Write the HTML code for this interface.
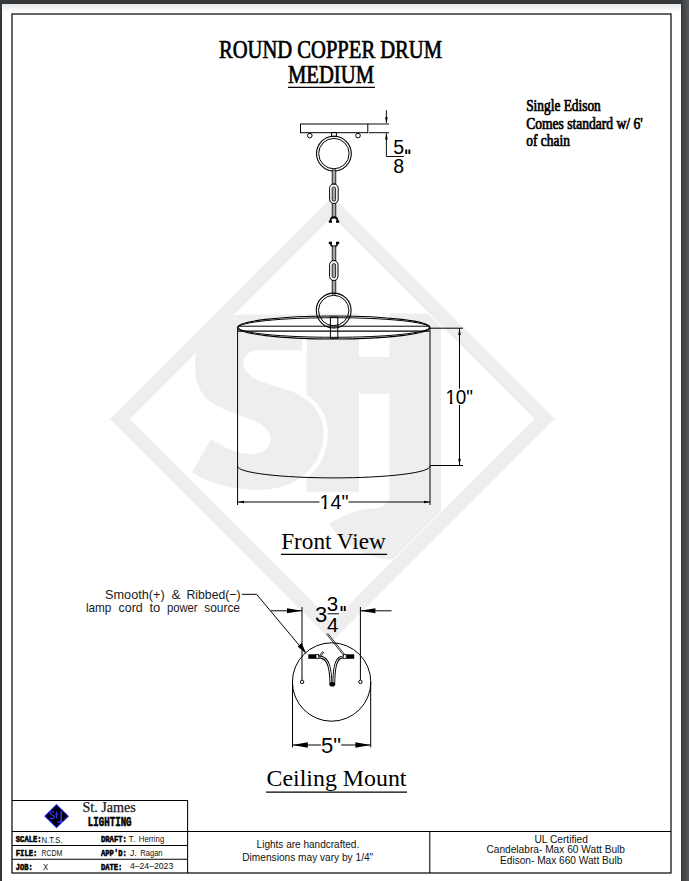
<!DOCTYPE html>
<html><head><meta charset="utf-8">
<style>
html,body{margin:0;padding:0;width:689px;height:881px;overflow:hidden;background:#35383b;}
svg{position:absolute;left:0;top:0;display:block;}
.sans{font-family:"Liberation Sans",sans-serif;}
.serif{font-family:"Liberation Serif",serif;}
.mono{font-family:"Liberation Mono",monospace;}
</style></head>
<body>
<svg width="689" height="881" viewBox="0 0 689 881">
<defs>
<linearGradient id="topsh" x1="0" y1="0" x2="0" y2="1">
<stop offset="0" stop-color="#e6e6e6"/><stop offset="1" stop-color="#ffffff"/>
</linearGradient>
<linearGradient id="rstrip" x1="0" y1="0" x2="1" y2="0">
<stop offset="0" stop-color="#2e3134"/><stop offset="0.2" stop-color="#404346"/><stop offset="1" stop-color="#56595c"/>
</linearGradient>
</defs>
<!-- page -->
<rect x="0" y="0" width="689" height="881" fill="#35383b"/>
<rect x="681" y="0" width="8" height="881" fill="url(#rstrip)"/>
<rect x="2" y="4" width="679" height="877" fill="#ffffff"/>
<rect x="2" y="4" width="679" height="8" fill="url(#topsh)"/>

<!-- watermark -->
<clipPath id="dclip"><path d="M332.3 218 L533.3 419 L332.3 620 L131.3 419 Z"/></clipPath>
<g id="wm" fill="#eeeeee">
<path fill-rule="evenodd" d="M332.3 196.5 L554.8 419 L332.3 641.5 L109.8 419 Z M332.3 216.5 L534.8 419 L332.3 621.5 L129.8 419 Z"/>
<g clip-path="url(#dclip)">
<rect x="306.6" y="313.4" width="52.4" height="178.4"/>
<rect x="358" y="357" width="32" height="36.6"/>
<path d="M389.5 313.4 H441 V512 L398 560 C378 560 348 552 329 524 C345 514 360 508.5 374 508.5 C383 508.5 389.5 503 389.5 495.5 Z"/>

</g>
<clipPath id="sepclip"><rect x="288" y="300" width="60" height="200"/></clipPath>
<path clip-path="url(#sepclip)" fill="#fff" stroke="#fff" stroke-width="8.8" d="M302.2 314.5 V350.5 H257 C249 350.5 243.5 356.5 243.5 363.5 C243.5 372 252 379 268 384 C285 389 296 392 302.2 397 C316 405 323.5 418 323.5 433 C323.5 465 298 489.7 260 489.7 C230 489.7 205 482 192 472 L211 439.5 C225 448 238 454 252 454 C263 454 270.4 448 270.4 439 C270.4 430 263 424 250 419 C232 413 214 406 207 399 C199 391 195 380 195 366 C195 336 214 314.5 244 314.5 Z"/>
<path d="M302.2 314.5 V350.5 H257 C249 350.5 243.5 356.5 243.5 363.5 C243.5 372 252 379 268 384 C285 389 296 392 302.2 397 C316 405 323.5 418 323.5 433 C323.5 465 298 489.7 260 489.7 C230 489.7 205 482 192 472 L211 439.5 C225 448 238 454 252 454 C263 454 270.4 448 270.4 439 C270.4 430 263 424 250 419 C232 413 214 406 207 399 C199 391 195 380 195 366 C195 336 214 314.5 244 314.5 Z"/>
</g>

<!-- border -->
<rect x="12" y="14" width="659" height="859" fill="none" stroke="#000" stroke-width="1.2"/>

<!-- title -->
<g class="serif" fill="#000" stroke="#000" stroke-width="0.7">
<text x="219" y="58.3" font-size="24.6" textLength="223" lengthAdjust="spacingAndGlyphs">ROUND COPPER DRUM</text>
<text x="288" y="82.6" font-size="24.6" textLength="86" lengthAdjust="spacingAndGlyphs">MEDIUM</text>
<text x="526.2" y="110.9" font-size="16" textLength="74.6" lengthAdjust="spacingAndGlyphs">Single Edison</text>
<text x="526.2" y="128.6" font-size="16" textLength="116.4" lengthAdjust="spacingAndGlyphs">Comes standard w/ 6'</text>
<text x="526.2" y="145.6" font-size="16" textLength="43.7" lengthAdjust="spacingAndGlyphs">of chain</text>
</g>
<line x1="288" y1="87.3" x2="375" y2="87.3" stroke="#000" stroke-width="1.3"/>

<!-- drawing -->
<g id="draw" fill="none" stroke="#000" stroke-width="1">
<ellipse cx="333.75" cy="327.5" rx="96.2" ry="11.5" fill="#fff" stroke="none"/>
<!-- canopy -->
<rect x="300.5" y="124" width="67.3" height="8.7"/>
<circle cx="309.8" cy="135.6" r="2.3"/>
<circle cx="358" cy="135.6" r="2.3"/>
<rect x="331.6" y="132.5" width="4.8" height="3.8"/>
<circle cx="333.9" cy="153.6" r="17.4" stroke-width="1.1"/>
<circle cx="333.9" cy="153.6" r="15.2" stroke-width="1"/>
<!-- upper chain -->
<rect x="332.2" y="170" width="3.6" height="14" fill="#a8a8a8" stroke-width="0.8"/>
<rect x="329.6" y="184" width="8.6" height="19.6" rx="4.3" stroke-width="1"/>
<rect x="332.2" y="187" width="3.4" height="14" rx="1.5" fill="#a8a8a8" stroke-width="0.8"/>
<rect x="332.2" y="203.6" width="3.6" height="14.5" fill="#a8a8a8" stroke-width="0.8"/>
<path d="M330.4 221.5 C330.4 218.5 332 217.2 334 217.2 C336 217.2 337.6 218.5 337.6 221.5" stroke-width="1.7"/><path d="M328.8 220.6 h3.2 v2.2 h-3.2 Z M336 220.6 h3.2 v2.2 h-3.2 Z" fill="#000" stroke="none"/>
<!-- lower chain -->
<path d="M330.4 242.5 C330.6 245 332 246.6 334 246.8 C336 246.6 337.4 245 337.6 242.5" stroke-width="1.7"/><path d="M328.8 241.8 h3.2 v2.2 h-3.2 Z M336 241.8 h3.2 v2.2 h-3.2 Z" fill="#000" stroke="none"/>
<rect x="332.2" y="246" width="3.6" height="14.6" fill="#a8a8a8" stroke-width="0.8"/>
<rect x="329.6" y="260.6" width="8.4" height="19.9" rx="4.2" stroke-width="1"/>
<rect x="332.2" y="263.6" width="3.4" height="14" rx="1.5" fill="#a8a8a8" stroke-width="0.8"/>
<rect x="332.2" y="280.5" width="3.6" height="13.5" fill="#a8a8a8" stroke-width="0.8"/>
<circle cx="333.7" cy="310.5" r="17.4" stroke-width="1.1"/>
<circle cx="333.7" cy="310.5" r="15.2" stroke-width="1"/>
<!-- drum -->
<rect x="330.4" y="317" width="7.4" height="21.3" fill="none" stroke-width="1"/>
<ellipse cx="333.75" cy="327.5" rx="96.2" ry="11.5" stroke-width="1.1"/>
<ellipse cx="333.75" cy="327.5" rx="95.4" ry="9.8" stroke-width="1"/>
<line x1="238" y1="326.2" x2="429.5" y2="326.2"/>
<line x1="238" y1="331.2" x2="429.5" y2="331.2" stroke-width="1.2"/>
<line x1="237.6" y1="327.5" x2="237.6" y2="505"/>
<line x1="430" y1="327.5" x2="430" y2="505"/>
<path d="M237.6 466.3 A96.2 11.6 0 0 0 430 466.3"/>
<!-- dims front -->
<path d="M430 328.2 H463 M430 465.5 H463 M459.5 328.2 V388.7 M459.5 405 V465.5"/>
<path d="M459.5 328.5 L458.2 335 L460.8 335 Z M459.5 465.2 L458.2 458.7 L460.8 458.7 Z" fill="#000" stroke="none"/>
<path d="M238 502 H319.5 M348.5 502 H430"/>
<path d="M238 502 L244 500.7 L244 503.3 Z M430 502 L424 500.7 L424 503.3 Z" fill="#000" stroke="none"/>
<line x1="281" y1="554.3" x2="387" y2="554.3" stroke-width="1.3"/>
<!-- ceiling mount -->
<path d="M241.8 594.3 H256.6 L304 651"/>
<path d="M306.5 654 L297.6 646.4 L301.6 643 Z" fill="#000" stroke="none"/>
<path d="M302 607 V680 M360.4 607 V680"/>
<path d="M270.7 610.8 H302 M360.4 610.8 H391.6"/>
<path d="M302 610.8 L287 608.3 L287 613.3 Z M360.4 610.8 L375.4 608.3 L375.4 613.3 Z" fill="#000" stroke="none"/>
<line x1="327.5" y1="613.8" x2="339" y2="613.8" stroke-width="1"/>
<circle cx="331.6" cy="682" r="39.2"/>
<circle cx="302.1" cy="681.9" r="1.7"/>
<circle cx="360.4" cy="681.9" r="1.7"/>
<path d="M292.5 682 V747.3 M370.7 682 V747.3"/>
<path d="M292.5 745 H321 M341.2 745 H370.7"/>
<path d="M292.5 745 L307.8 742.2 L307.8 747.8 Z M370.7 745 L355.4 742.2 L355.4 747.8 Z" fill="#000" stroke="none"/>
<!-- wires -->
<rect x="308.3" y="654.3" width="7.7" height="4.5" fill="#000" stroke="none"/>
<rect x="316" y="654.6" width="2.6" height="4" fill="#fff" stroke-width="0.8"/>
<rect x="346.2" y="654.3" width="8" height="4.5" fill="#000" stroke="none"/>
<rect x="343.5" y="654.6" width="2.7" height="4" fill="#fff" stroke-width="0.8"/>
<path d="M318.4 657 C326 657 330.6 662 330.9 684" stroke-width="2.8"/>
<path d="M318.4 657 C326 657 330.6 662 330.9 684" stroke="#fff" stroke-width="1"/>
<path d="M343.6 657 C337.5 657 334 662 333.8 684" stroke-width="2.8"/>
<path d="M343.6 657 C337.5 657 334 662 333.8 684" stroke="#fff" stroke-width="1"/>
<ellipse cx="332.3" cy="684.3" rx="2.9" ry="2.3" fill="#000" stroke="none"/>
<path d="M319 656.5 L322.8 651.2 M320.2 657.3 L323.8 652" stroke-width="0.8"/>
<path d="M326.4 633.8 L343 654.6 M327.8 633.4 L344.4 654.2" stroke-width="0.8"/>
<line x1="266" y1="792.1" x2="407" y2="792.1" stroke-width="1.3"/>
</g>
<g class="sans" fill="#000">
<text x="393.3" y="154" font-size="19.5">5</text>

<text x="393.3" y="172.8" font-size="19.5">8</text>
<text x="445.4" y="404.3" font-size="20" textLength="27.6" lengthAdjust="spacingAndGlyphs">10"</text>
<text x="319.6" y="508.7" font-size="19.8">14"</text>
<text x="314.9" y="622.3" font-size="22">3</text>
<text x="326.8" y="610.7" font-size="20.5">3</text>
<text x="327" y="631.7" font-size="20.5">4</text>

<text x="321" y="752.9" font-size="22">5"</text>
</g>
<path d="M319.5 506.5 H324 V509 H319.5 Z M326.4 506.5 H330 V509 H326.4 Z M445.5 401.5 H450 V404 H445.5 Z M452.4 401.5 H455.9 V404 H452.4 Z" fill="#fff"/>
<path d="M405.3 149.4 h1.9 v4.5 h-1.9 Z M408.4 149.4 h1.9 v4.5 h-1.9 Z M340.6 606 h1.9 v5 h-1.9 Z M343.8 606 h1.9 v5 h-1.9 Z" fill="#000"/>
<path d="M386.4 110.2 V123 M367.8 124 H389 M369 132.7 H389 M386.4 133.3 V156.5 H403.8" fill="none" stroke="#000" stroke-width="0.95"/>
<path d="M386.4 123.6 L385.1 117.2 L387.7 117.2 Z M386.4 133.1 L385.1 139.5 L387.7 139.5 Z" fill="#000"/>
<g class="serif" fill="#000">
<text x="281.2" y="548.7" font-size="23" textLength="104.5" lengthAdjust="spacingAndGlyphs">Front View</text>
<text x="266.5" y="785.7" font-size="23.8" textLength="140" lengthAdjust="spacingAndGlyphs">Ceiling Mount</text>
</g>
<g class="sans" fill="#1a1a1a" font-size="12.9" lengthAdjust="spacingAndGlyphs">
<text x="105.0" y="599.4" textLength="59.7" lengthAdjust="spacingAndGlyphs">Smooth(+)</text>
<text x="171.4" y="599.4" textLength="9.0" lengthAdjust="spacingAndGlyphs">&amp;</text>
<text x="186.5" y="599.4" textLength="54.0" lengthAdjust="spacingAndGlyphs">Ribbed(−)</text>
<text x="85.9" y="612.4" textLength="25.5" lengthAdjust="spacingAndGlyphs">lamp</text>
<text x="118.6" y="612.4" textLength="24.2" lengthAdjust="spacingAndGlyphs">cord</text>
<text x="149.4" y="612.4" textLength="10.9" lengthAdjust="spacingAndGlyphs">to</text>
<text x="166.9" y="612.4" textLength="30.7" lengthAdjust="spacingAndGlyphs">power</text>
<text x="204.3" y="612.4" textLength="35.7" lengthAdjust="spacingAndGlyphs">source</text>
</g>

<!-- title block -->
<path d="M45 816.2 L56.5 804.7 L68.2 816.2 L56.5 827.6 Z" fill="#000" stroke="#1a1aff" stroke-width="1.1"/>
<g fill="#3535ff" stroke="none">
<path d="M54.3 812.4 C53.6 811.5 50.6 811.3 50.4 813.3 C50.2 815.2 54.3 814.8 54.3 817 C54.3 819 51 819 50 818" fill="none" stroke="#3a3aff" stroke-width="1.1"/>
<path d="M56.6 811.5 V818.5 M55.3 814.2 H58.2" fill="none" stroke="#3a3aff" stroke-width="1"/>
<rect x="60.5" y="811" width="1.5" height="11.5"/>
<rect x="57.3" y="821.4" width="4.7" height="1.5"/>
</g>
<g class="serif"><text x="82.4" y="812" font-size="13.8" fill="#1a1a1a" stroke="#1a1a1a" stroke-width="0.25" textLength="53.4" lengthAdjust="spacingAndGlyphs">St. James</text></g>
<g class="mono" font-weight="bold" fill="#000" stroke="#000" stroke-width="0.6">
<text x="87.8" y="826.3" font-size="13.2" textLength="43.8" lengthAdjust="spacingAndGlyphs">LIGHTING</text>
<text x="15.8" y="842.3" font-size="9.4" textLength="25.8" lengthAdjust="spacingAndGlyphs">SCALE:</text>
<text x="15.8" y="855.9" font-size="9.4" textLength="21.5" lengthAdjust="spacingAndGlyphs">FILE:</text>
<text x="15.8" y="869.7" font-size="9.4" textLength="16.8" lengthAdjust="spacingAndGlyphs">JOB:</text>
<text x="101" y="842.3" font-size="9.4" textLength="25.8" lengthAdjust="spacingAndGlyphs">DRAFT:</text>
<text x="101" y="855.8" font-size="9.4" textLength="25.8" lengthAdjust="spacingAndGlyphs">APP'D:</text>
<text x="101" y="869.6" font-size="9.4" textLength="21.3" lengthAdjust="spacingAndGlyphs">DATE:</text>
</g>
<g class="sans" fill="#111" font-size="8.5">
<text x="41.6" y="842.5" textLength="20.8" lengthAdjust="spacingAndGlyphs">N.T.S.</text>
<text x="41.6" y="855.8" textLength="20.8" lengthAdjust="spacingAndGlyphs">RCDM</text>
<text x="43" y="869.5" textLength="5.2" lengthAdjust="spacingAndGlyphs">X</text>
<text x="128.5" y="842.2" textLength="6.6" lengthAdjust="spacingAndGlyphs">T.</text>
<text x="138.8" y="842.2" textLength="25.4" lengthAdjust="spacingAndGlyphs">Herring</text>
<text x="129.9" y="855.7" textLength="6.8" lengthAdjust="spacingAndGlyphs">J.</text>
<text x="140.2" y="855.7" textLength="22.4" lengthAdjust="spacingAndGlyphs">Ragan</text>
<text x="129.9" y="869.4" textLength="43.3" lengthAdjust="spacingAndGlyphs">4–24–2023</text>
</g>
<g class="sans" fill="#111" font-size="10.2">
<text x="256.6" y="848.3" textLength="102.6" lengthAdjust="spacingAndGlyphs">Lights are handcrafted.</text>
<text x="242.3" y="861" textLength="130.9" lengthAdjust="spacingAndGlyphs">Dimensions may vary by 1/4"</text>
<text x="534.4" y="843.4" textLength="53.5" lengthAdjust="spacingAndGlyphs">UL Certified</text>
<text x="486.4" y="853.4" textLength="138.6" lengthAdjust="spacingAndGlyphs">Candelabra- Max 60 Watt Bulb</text>
<text x="500" y="864.2" textLength="122.3" lengthAdjust="spacingAndGlyphs">Edison- Max 660 Watt Bulb</text>
</g>
<g fill="none" stroke="#000" stroke-width="1.05">
<path d="M12 800.5 H187.6 V873 M12 831.4 H671 M12 845.5 H187.6 M12 859.3 H187.6 M429.8 831.4 V873"/>
</g>
</svg>
</body></html>
